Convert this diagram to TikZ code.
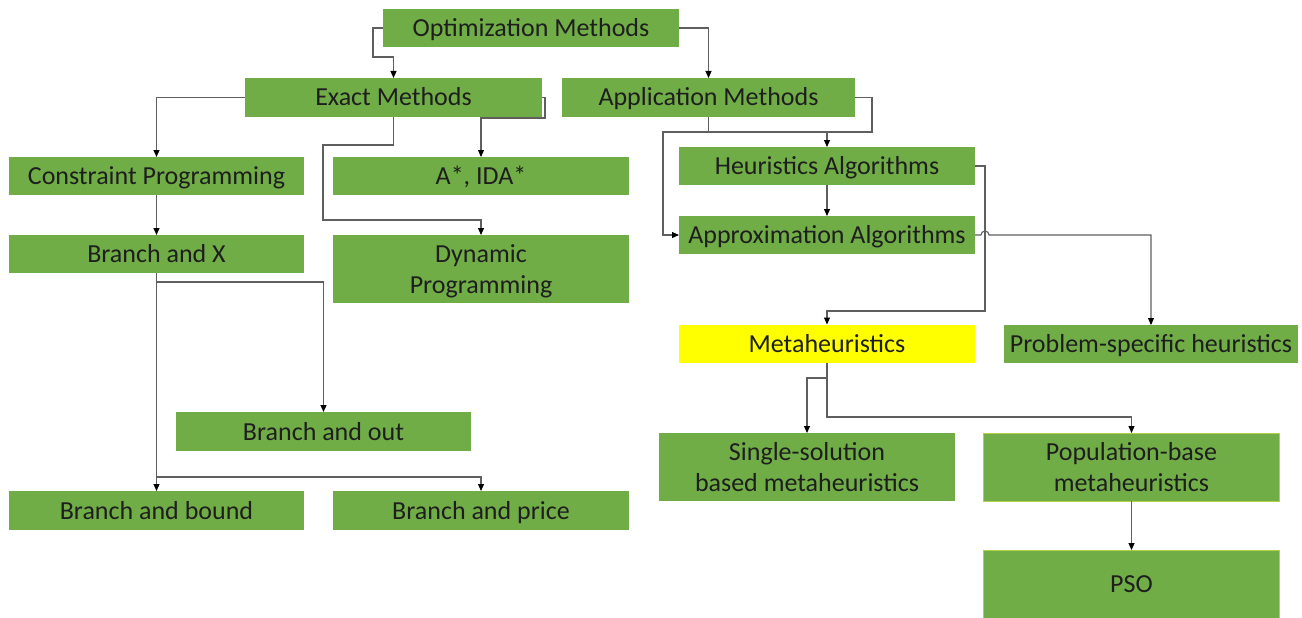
\documentclass[tikz,border=0pt]{standalone}
\usepackage{fontspec}
\setmainfont{Carlito}
\usetikzlibrary{arrows.meta}
\definecolor{boxgreen}{HTML}{70AD47}
\definecolor{boxyellow}{HTML}{FFFF00}
\definecolor{linegray}{HTML}{5F5F5F}
\definecolor{txt}{HTML}{1E1E1E}
\definecolor{edgeyg}{HTML}{B5CF4A}
\begin{document}
\begin{tikzpicture}[x=1pt,y=-1pt,
  box/.style={fill=boxgreen, draw=none, text=txt, inner sep=0pt, outer sep=0pt,
    minimum width=296pt, minimum height=38pt, align=center,
    text height=19pt, text depth=2pt,
    font=\fontsize{26}{31}\selectfont},
  tallbox/.style={minimum height=68pt, text height=50pt, text depth=2pt},
  ygedge/.style={draw=edgeyg, line width=1pt},
  conn/.style={draw=linegray, line width=1.1pt},
  arr/.style={conn, -{Triangle[length=7pt,width=6pt,color=black]}}]
\useasboundingbox (0,0) rectangle (1302,618);
% nodes
\node[box] (opt) at (531,28) {Optimization Methods};
\node[box, minimum width=297pt, minimum height=39pt] (exact) at (393.5,97.5) {Exact Methods};
\node[box, minimum width=293pt, minimum height=39pt] (app) at (708.5,97.5) {Application Methods};
\node[box, minimum width=295pt] (cp) at (156.5,176) {Constraint Programming};
\node[box] (astar) at (481,176) {A*, IDA*};
\node[box, minimum width=295pt] (bx) at (156.5,254) {Branch and X};
\node[box, tallbox] (dp) at (481,269) {Dynamic\\Programming};
\node[box, minimum width=295pt, minimum height=39pt] (bout) at (323.5,431.5) {Branch and out};
\node[box, minimum width=295pt, minimum height=39pt] (bbound) at (156.5,510.5) {Branch and bound};
\node[box, minimum height=39pt] (bprice) at (481,510.5) {Branch and price};
\node[box] (heur) at (827,166) {Heuristics Algorithms};
\node[box] (approx) at (827,235) {Approximation Algorithms};
\node[box, fill=boxyellow] (meta) at (827,343.5) {Metaheuristics};
\node[box, minimum width=294pt] (psh) at (1151,344) {Problem-specific heuristics};
\node[box, tallbox] (single) at (807,467) {Single-solution\\based metaheuristics};
\node[box, tallbox, ygedge] (pop) at (1131.5,467) {Population-base\\metaheuristics};
\node[box, minimum height=68pt, ygedge] (pso) at (1131.5,584) {PSO};
% connectors
\draw[arr] (opt.west) -| (373,57) -| (exact.north);
\draw[arr] (opt.east) -| (app.north);
\draw[arr] (exact.west) -| (cp.north);
\draw[arr] (exact.east) -- (545,97.5) -- (545,118) -| (astar.north);
\draw[arr] (exact.south) -- (393.5,145) -| (323,220) -| (dp.north);
\draw[arr] (cp) -- (bx);
\draw[arr] (bx.south) -- (156.5,282) -| (bout.north);
\draw[arr] (bx.south) -- (bbound.north);
\draw[arr] (bx.south) -- (156.5,477) -| (bprice.north);
\draw[arr] (app.south) -- (708.5,132) -| (heur.north);
\draw[arr] (app.east) -- (872,97.5) -- (872,132) -| (663,235) -- (approx.west);
\draw[arr] (heur) -- (approx);
\draw[arr] (heur.east) -- (985,166) -- (985,311) -| (meta.north);
\draw[arr] (approx.east) -- (981,235) arc[start angle=180,end angle=0,radius=4pt] -| (psh.north);
\draw[arr] (meta.south) -- (827,378) -| (single.north);
\draw[arr] (meta.south) -- (827,417) -| (pop.north);
\draw[arr] (pop) -- (pso);
\end{tikzpicture}
\end{document}
